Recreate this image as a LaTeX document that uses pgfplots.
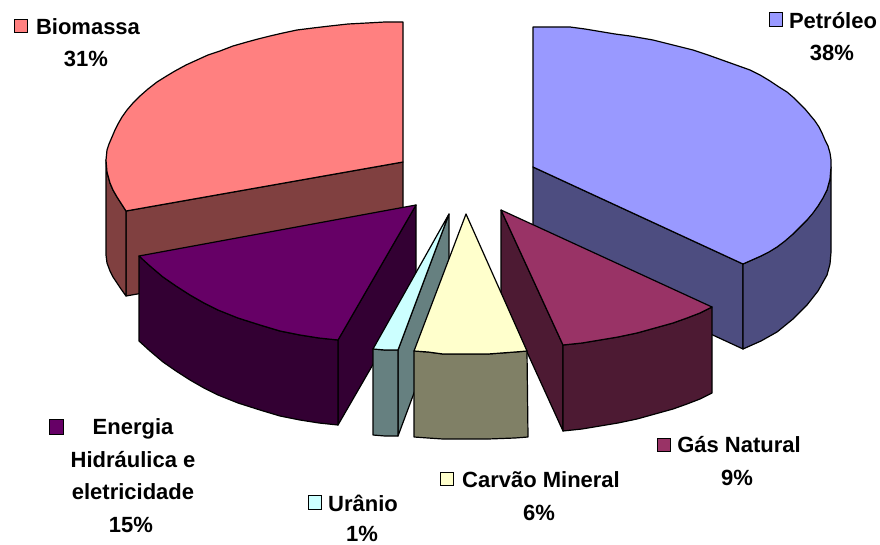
\documentclass[border=0pt]{standalone}
\usepackage{pgfplots}
\pgfplotsset{compat=1.18}
\usepackage{fontspec}
\setmainfont{Liberation Sans}
\definecolor{petA}{HTML}{9999FF}\definecolor{petB}{HTML}{4D4D80}
\definecolor{gasA}{HTML}{993366}\definecolor{gasB}{HTML}{4D1A33}
\definecolor{carA}{HTML}{FFFFCC}\definecolor{carB}{HTML}{808066}
\definecolor{uraA}{HTML}{CCFFFF}\definecolor{uraB}{HTML}{668080}
\definecolor{eneA}{HTML}{660066}\definecolor{eneB}{HTML}{330033}
\definecolor{bioA}{HTML}{FF8080}\definecolor{bioB}{HTML}{804040}
\pgfplotsset{pie/.style={draw=black,line width=1.2pt,line join=round,mark=none,sharp plot,forget plot},
 key/.style={draw=black,line width=1pt,mark=none,sharp plot,forget plot}}
\newcommand{\lab}[3]{\node[anchor=base,inner sep=0pt,font=\fontsize{22}{26}\selectfont\bfseries] at (axis cs:#1,#2) {#3};}
\begin{document}
\begin{tikzpicture}
\path[use as bounding box] (0,0) rectangle (880pt,545pt);
\begin{axis}[at={(0,0)},anchor=south west,scale only axis,width=880pt,height=545pt,
 xmin=0,xmax=880,ymin=0,ymax=545,y dir=reverse,hide axis,clip=false]
% Biomassa
\addplot[pie,fill=bioB] coordinates {(126,211)(403,162)(403,247)(126,296)} --cycle;
\addplot[pie,fill=bioB] coordinates {(106,160)(107,172)(110,183)(113,190)(117,197)(126,211)(126,296)(121,289)(117,283)(113,277)(110,271)(107,263)(106,255)} --cycle;
\addplot[pie,fill=bioA] coordinates {(403,162)(403,22)(385,22)(367,23)(348,24)(330,26)(313,28)(297,30)(283,33)(270,36)(258,39)(247,42)(233,46)(220,51)(208,55)(197,60)(186,65)(175,71)(165,77)(157,82)(148,89)(140,96)(133,103)(127,110)(122,117)(118,124)(115,130)(112,137)(109,144)(107,150)(106,160)(107,172)(110,183)(113,190)(117,197)(126,211)} --cycle;
% Petroleo
\addplot[pie,fill=petB] coordinates {(533,167)(743,264)(743,349)(533,252)} --cycle;
\addplot[pie,fill=petB] coordinates {(743,264)(761,256)(777,247)(793,234)(807,220)(818,206)(827,190)(830,179)(831,167)(831,252)(830,264)(827,275)(818,291)(807,305)(793,319)(777,332)(761,341)(743,349)} --cycle;
\addplot[pie,fill=petA] coordinates {(533,167)(533,27)(552,27)(570,27)(585,29)(603,32)(615,34)(630,36)(653,40)(673,45)(693,50)(708,55)(722,60)(736,65)(750,70)(760,75)(770,81)(779,87)(787,92)(794,98)(800,104)(805,109)(810,115)(815,121)(819,127)(822,133)(825,140)(828,146)(830,153)(831,160)(831,167)(830,179)(827,190)(823,198)(818,206)(813,213)(807,220)(800,227)(793,234)(785,241)(777,247)(769,252)(761,256)(752,260)(743,264)} --cycle;
% Energia
\addplot[pie,fill=eneB] coordinates {(416,205)(338,340)(338,425)(416,290)} --cycle;
\addplot[pie,fill=eneB] coordinates {(139,256)(150,266)(163,277)(176,286)(190,295)(204,303)(218,310)(238,318)(260,325)(280,331)(300,335)(319,338)(338,340)(338,425)(319,423)(300,420)(280,416)(260,410)(238,403)(218,395)(204,388)(190,380)(176,371)(163,362)(150,351)(139,341)} --cycle;
\addplot[pie,fill=eneA] coordinates {(416,205)(139,256)(150,266)(163,277)(176,286)(190,295)(204,303)(218,310)(238,318)(260,325)(280,331)(300,335)(319,338)(338,340)} --cycle;
% Gas
\addplot[pie,fill=gasB] coordinates {(501,210)(563,345)(563,431)(501,295)} --cycle;
\addplot[pie,fill=gasB] coordinates {(563,345)(582,343)(600,340)(618,337)(637,333)(655,328)(673,323)(687,318)(700,313)(712,307)(712,393)(700,399)(687,404)(673,409)(655,414)(637,419)(618,423)(600,426)(582,429)(563,431)} --cycle;
\addplot[pie,fill=gasA] coordinates {(501,210)(712,307)(700,313)(687,318)(673,323)(655,328)(637,333)(618,337)(600,340)(582,343)(563,345)} --cycle;
% Uranio
\addplot[pie,fill=uraB] coordinates {(449,214)(398,350)(398,436)(449,299)} --cycle;
\addplot[pie,fill=uraB] coordinates {(373,349)(385,350)(398,350)(398,436)(385,436)(373,435)} --cycle;
\addplot[pie,fill=uraA] coordinates {(449,214)(373,349)(385,350)(398,350)} --cycle;
% Carvao
\addplot[pie,fill=carB] coordinates {(414,351)(428,352)(443,354)(465,354)(488,354)(515,352)(527,351)(528,437)(515,438)(488,439)(465,439)(443,439)(428,438)(414,437)} --cycle;
\addplot[pie,fill=carA] coordinates {(466,214)(414,351)(428,352)(443,354)(465,354)(488,354)(515,352)(527,351)} --cycle;
% legend keys
\addplot[key,fill=petA] coordinates {(769,13)(782,13)(782,27)(769,27)} --cycle;
\addplot[key,fill=bioA] coordinates {(14,20)(27,20)(27,33)(14,33)} --cycle;
\addplot[key,fill=gasA] coordinates {(657,438)(670,438)(670,451)(657,451)} --cycle;
\addplot[key,fill=carA] coordinates {(440,472)(453,472)(453,485)(440,485)} --cycle;
\addplot[key,fill=uraA] coordinates {(308,495)(321,495)(321,509)(308,509)} --cycle;
\addplot[key,fill=eneA] coordinates {(49,419)(63,419)(63,434)(49,434)} --cycle;
% labels
\lab{88}{35}{Biomassa}\lab{86}{67}{31\%}
\lab{833}{29}{Petróleo}\lab{832}{61}{38\%}
\lab{739}{452}{Gás Natural}\lab{737}{485}{9\%}
\lab{541}{487}{Carvão Mineral}\lab{539}{520}{6\%}
\lab{363}{511}{Urânio}\lab{362}{541}{1\%}
\lab{133}{434}{Energia}\lab{133}{467}{Hidráulica e}\lab{133}{499}{eletricidade}\lab{131}{532}{15\%}
\end{axis}
\end{tikzpicture}
\end{document}
